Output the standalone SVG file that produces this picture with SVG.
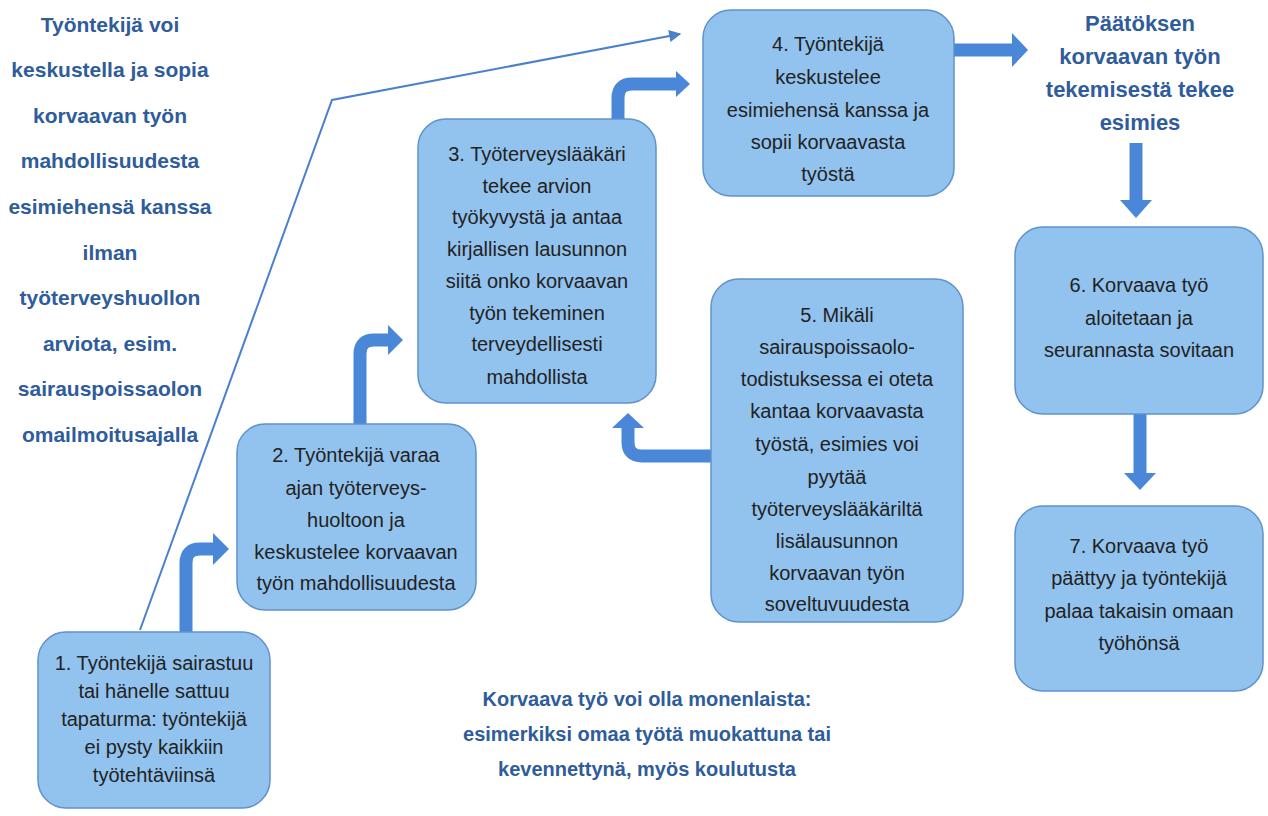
<svg xmlns="http://www.w3.org/2000/svg" width="1268" height="816" viewBox="0 0 1268 816">
<style>
.box{fill:#92c2ee;stroke:#5e93cc;stroke-width:1.5}
.bt{font-family:"Liberation Sans",Arial,sans-serif;font-size:20px;fill:#222222;text-anchor:middle}
.hd{font-family:"Liberation Sans",Arial,sans-serif;font-weight:bold;fill:#2f5c9a;text-anchor:middle}
.shaft{fill:none;stroke:#4a87d8;stroke-width:13}
.head{fill:#4a87d8}
.thin{fill:none;stroke:#4a80cc;stroke-width:2}
</style>
<defs>
<marker id="ah" viewBox="0 0 10 10" refX="9" refY="5" markerWidth="15" markerHeight="12" markerUnits="userSpaceOnUse" orient="auto"><path d="M0,0 L10,5 L0,10 z" fill="#4a80cc"/></marker>
</defs>
<rect width="1268" height="816" fill="#ffffff"/>

<g id="connectors">
<path class="thin" d="M140,630 L332,100 L680,34" marker-end="url(#ah)"/>
<path class="shaft" d="M186,632 V563 Q186,549 200,549 H214"/>
<polygon class="head" points="213,533 229,549 213,565"/>
<path class="shaft" d="M360,424 V354 Q360,340 374,340 H389"/>
<polygon class="head" points="388,325 403,340 388,355"/>
<path class="shaft" d="M618,120 V98 Q618,84 632,84 H677"/>
<polygon class="head" points="676,71 690,84 676,97"/>
<path class="shaft" d="M954,50 H1013"/>
<polygon class="head" points="1012,33 1028,50 1012,67"/>
<path class="shaft" d="M711,456 H642 Q628,456 628,442 V427"/>
<polygon class="head" points="612,428 628,413 644,428"/>
<path class="shaft" d="M1136,143 V201" stroke-width="16"/>
<polygon class="head" points="1120,200 1152,200 1136,218"/>
<path class="shaft" d="M1140,414 V474" stroke-width="16"/>
<polygon class="head" points="1124,473 1156,473 1140,490"/>
</g>

<g id="left-note">
<text class="hd" font-size="21"><tspan x="110" y="32">Työntekijä voi</tspan><tspan x="110" y="77">keskustella ja sopia</tspan><tspan x="110" y="123">korvaavan työn</tspan><tspan x="110" y="168">mahdollisuudesta</tspan><tspan x="110" y="214">esimiehensä kanssa</tspan><tspan x="110" y="260">ilman</tspan><tspan x="110" y="305">työterveyshuollon</tspan><tspan x="110" y="351">arviota, esim.</tspan><tspan x="110" y="396">sairauspoissaolon</tspan><tspan x="110" y="442">omailmoitusajalla</tspan></text>
</g>

<g id="decision-note">
<text class="hd" font-size="22"><tspan x="1140" y="31">Päätöksen</tspan><tspan x="1140" y="64">korvaavan työn</tspan><tspan x="1140" y="97">tekemisestä tekee</tspan><tspan x="1140" y="130">esimies</tspan></text>
</g>

<g id="bottom-note">
<text class="hd" font-size="20"><tspan x="647" y="706">Korvaava työ voi olla monenlaista:</tspan><tspan x="647" y="741">esimerkiksi omaa työtä muokattuna tai</tspan><tspan x="647" y="776">kevennettynä, myös koulutusta</tspan></text>
</g>

<g id="node1">
<rect class="box" x="38" y="632" width="232" height="176" rx="28"/>
<text class="bt"><tspan x="154" y="670">1. Työntekijä sairastuu</tspan><tspan x="154" y="698">tai hänelle sattuu</tspan><tspan x="154" y="726">tapaturma: työntekijä</tspan><tspan x="154" y="754">ei pysty kaikkiin</tspan><tspan x="154" y="782">työtehtäviinsä</tspan></text>
</g>

<g id="node2">
<rect class="box" x="237" y="424" width="239" height="186" rx="28"/>
<text class="bt"><tspan x="356" y="462">2. Työntekijä varaa</tspan><tspan x="356" y="495">ajan työterveys-</tspan><tspan x="356" y="527">huoltoon ja</tspan><tspan x="356" y="559">keskustelee korvaavan</tspan><tspan x="356" y="590">työn mahdollisuudesta</tspan></text>
</g>

<g id="node3">
<rect class="box" x="418" y="119" width="238" height="284" rx="28"/>
<text class="bt"><tspan x="537" y="161">3. Työterveyslääkäri</tspan><tspan x="537" y="193">tekee arvion</tspan><tspan x="537" y="224">työkyvystä ja antaa</tspan><tspan x="537" y="256">kirjallisen lausunnon</tspan><tspan x="537" y="288">siitä onko korvaavan</tspan><tspan x="537" y="320">työn tekeminen</tspan><tspan x="537" y="351">terveydellisesti</tspan><tspan x="537" y="384">mahdollista</tspan></text>
</g>

<g id="node4">
<rect class="box" x="703" y="10" width="251" height="186" rx="28"/>
<text class="bt"><tspan x="828" y="51">4. Työntekijä</tspan><tspan x="828" y="84">keskustelee</tspan><tspan x="828" y="117">esimiehensä kanssa ja</tspan><tspan x="828" y="149">sopii korvaavasta</tspan><tspan x="828" y="181">työstä</tspan></text>
</g>

<g id="node5">
<rect class="box" x="711" y="279" width="252" height="343" rx="28"/>
<text class="bt"><tspan x="837" y="322">5. Mikäli</tspan><tspan x="837" y="354">sairauspoissaolo-</tspan><tspan x="837" y="386">todistuksessa ei oteta</tspan><tspan x="837" y="418">kantaa korvaavasta</tspan><tspan x="837" y="451">työstä, esimies voi</tspan><tspan x="837" y="484">pyytää</tspan><tspan x="837" y="516">työterveyslääkäriltä</tspan><tspan x="837" y="548">lisälausunnon</tspan><tspan x="837" y="580">korvaavan työn</tspan><tspan x="837" y="611">soveltuvuudesta</tspan></text>
</g>

<g id="node6">
<rect class="box" x="1015" y="227" width="248" height="187" rx="28"/>
<text class="bt"><tspan x="1139" y="292">6. Korvaava työ</tspan><tspan x="1139" y="325">aloitetaan ja</tspan><tspan x="1139" y="357">seurannasta sovitaan</tspan></text>
</g>

<g id="node7">
<rect class="box" x="1015" y="506" width="248" height="185" rx="28"/>
<text class="bt"><tspan x="1139" y="553">7. Korvaava työ</tspan><tspan x="1139" y="585">päättyy ja työntekijä</tspan><tspan x="1139" y="618">palaa takaisin omaan</tspan><tspan x="1139" y="650">työhönsä</tspan></text>
</g>
</svg>
